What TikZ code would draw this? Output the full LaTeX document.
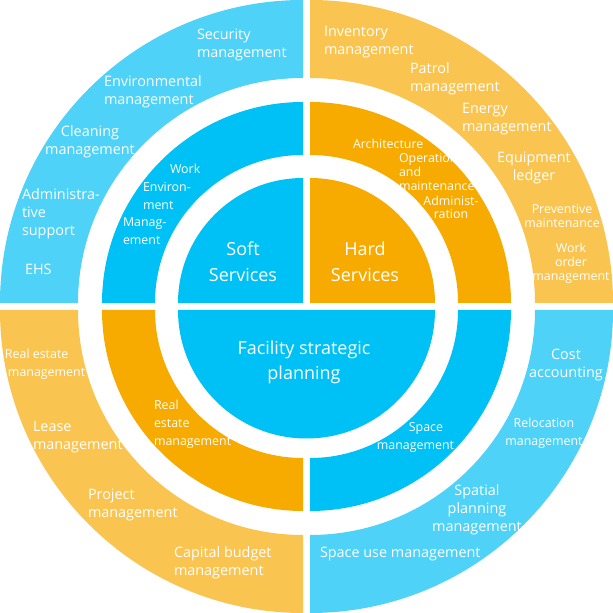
\documentclass[tikz,border=0pt]{standalone}
\usepackage{fontspec}
\setmainfont{Open Sans}
\usetikzlibrary{calc}
\definecolor{lblue}{RGB}{79,210,248}
\definecolor{dblue}{RGB}{0,193,246}
\definecolor{lorange}{RGB}{250,196,80}
\definecolor{dorange}{RGB}{247,170,0}
\newcommand{\annsec}[7]{% color, cx, cy, a1, a2, rin, rout
  \fill[#1] ($(#2,#3)+(#4:#6pt)$) arc[start angle=#4,end angle=#5,radius=#6pt]
    -- ($(#2,#3)+(#5:#7pt)$) arc[start angle=#5,end angle=#4,radius=#7pt] -- cycle;}
\newcommand{\pie}[6]{% color, cx, cy, a1, a2, r
  \fill[#1] (#2,#3) -- ($(#2,#3)+(#4:#6pt)$) arc[start angle=#4,end angle=#5,radius=#6pt] -- cycle;}
\tikzset{
  txt/.style={text=white, inner sep=0pt, outer sep=0pt},
  outertxt/.style={txt, font=\fontsize{14.4}{18}\selectfont},
  midtxt/.style={txt, font=\fontsize{12.4}{18}\selectfont},
  tinytxt/.style={txt, font=\fontsize{12.4}{14}\selectfont},
  disctxt/.style={txt, font=\fontsize{18}{26}\selectfont},
}
\begin{document}
\begin{tikzpicture}[x=1pt,y=1pt]
\useasboundingbox (0,0) rectangle (613,613);
% top-left quadrant (soft services)
\annsec{lblue}{303}{310}{90}{180}{225}{303}
\annsec{dblue}{303}{310}{90}{180}{148}{201}
\pie{dblue}{303}{310}{90}{180}{125}
% top-right quadrant (hard services)
\annsec{lorange}{310}{310}{0}{90}{225}{303}
\annsec{dorange}{310}{310}{0}{90}{148}{201}
\pie{dorange}{310}{310}{0}{90}{125}
% bottom-left quadrant
\annsec{lorange}{303}{303}{180}{270}{225}{303}
\annsec{dorange}{303}{303}{180}{270}{148}{201}
% bottom-right quadrant
\annsec{lblue}{310}{303}{270}{360}{225}{303}
\annsec{dblue}{310}{303}{270}{360}{148}{201}
% bottom semicircle
\pie{dblue}{306.5}{303}{180}{360}{128.5}

% ---- top-left outer
\node[outertxt, align=left, anchor=west] (sec) at (197,568) {Security\\management};
\node[outertxt, align=left, anchor=west] (env) at (104,521) {Environmental\\management};
\node[outertxt, align=center] (clean) at (90,471) {Cleaning\\management};
\node[outertxt, align=left, anchor=west] (admin) at (22,399) {Administra-\\tive\\support};
\node[outertxt, align=left, anchor=west] (ehs) at (25,344) {EHS};
% ---- top-left middle
\node[midtxt, anchor=west] (work) at (170,444.5) {Work};
\node[midtxt, align=left, anchor=west] (envm) at (143,416.5) {Environ-\\ment};
\node[midtxt, align=left, anchor=west] (manag) at (123,381.5) {Manag-\\ement};
% ---- top-left disc
\node[disctxt, align=center] (soft) at (243,351) {Soft\\Services};

% ---- top-right outer
\node[outertxt, align=left, anchor=west] (inv) at (324,571) {Inventory\\management};
\node[outertxt, align=left, anchor=west] (patrol) at (410,534) {Patrol\\management};
\node[outertxt, align=left, anchor=west] (energy) at (462,494) {Energy\\management};
\node[outertxt, align=center] (equip) at (534,445) {Equipment\\ledger};
\node[tinytxt, align=center] (prev) at (562,397) {Preventive\\maintenance};
\begin{scope}
\clip (310,310) circle[radius=303pt];
\node[tinytxt, align=center] (wom) at (571,350) {Work\\order\\management};
\end{scope}
% ---- top-right middle (clipped to ring)
\begin{scope}
\clip ($(310,310)+(0:148pt)$) arc[start angle=0,end angle=90,radius=148pt]
  -- ($(310,310)+(90:201pt)$) arc[start angle=90,end angle=0,radius=201pt] -- cycle;
\node[tinytxt, anchor=west] (arch) at (353,469.5) {Architecture};
\node[tinytxt, align=left, anchor=west] (oper) at (399,441) {Operation\\and\\maintenance};
\node[tinytxt, align=center, font=\fontsize{12.4}{13.5}\selectfont] (adm2) at (451,405.5) {Administ-\\ration};
\end{scope}
% ---- top-right disc
\node[disctxt, align=center] (hard) at (365,351) {Hard\\Services};

% ---- bottom disc
\node[disctxt, align=center, font=\fontsize{18}{25}\selectfont] (fsp) at (304,250.5) {Facility strategic\\planning};

% ---- bottom-left outer
\node[midtxt, align=left, anchor=west] (re1) at (5,249) {Real estate\\\hspace*{3pt}management};
\node[outertxt, align=left, anchor=west] (lease) at (33,176) {Lease\\management};
\node[outertxt, align=left, anchor=west] (proj) at (88,108) {Project\\management};
\node[outertxt, align=left, anchor=west] (cap) at (174,50) {Capital budget\\management};
% ---- bottom-left middle
\node[midtxt, align=left, anchor=west] (re2) at (154,189) {Real\\estate\\management};

% ---- bottom-right middle
\node[midtxt] (space1) at (426,184.5) {Space};
\node[midtxt] (space2) at (415.5,166.5) {management};

% ---- bottom-right outer
\node[outertxt, align=center] (cost) at (566,248) {Cost\\accounting};
\node[midtxt, align=center] (reloc) at (544,179.5) {Relocation\\management};
\node[outertxt, align=center] (spatial) at (477,103) {Spatial\\planning\\management};
\node[outertxt, anchor=west] (spaceuse) at (320,58.5) {Space use management};
\end{tikzpicture}
\end{document}
